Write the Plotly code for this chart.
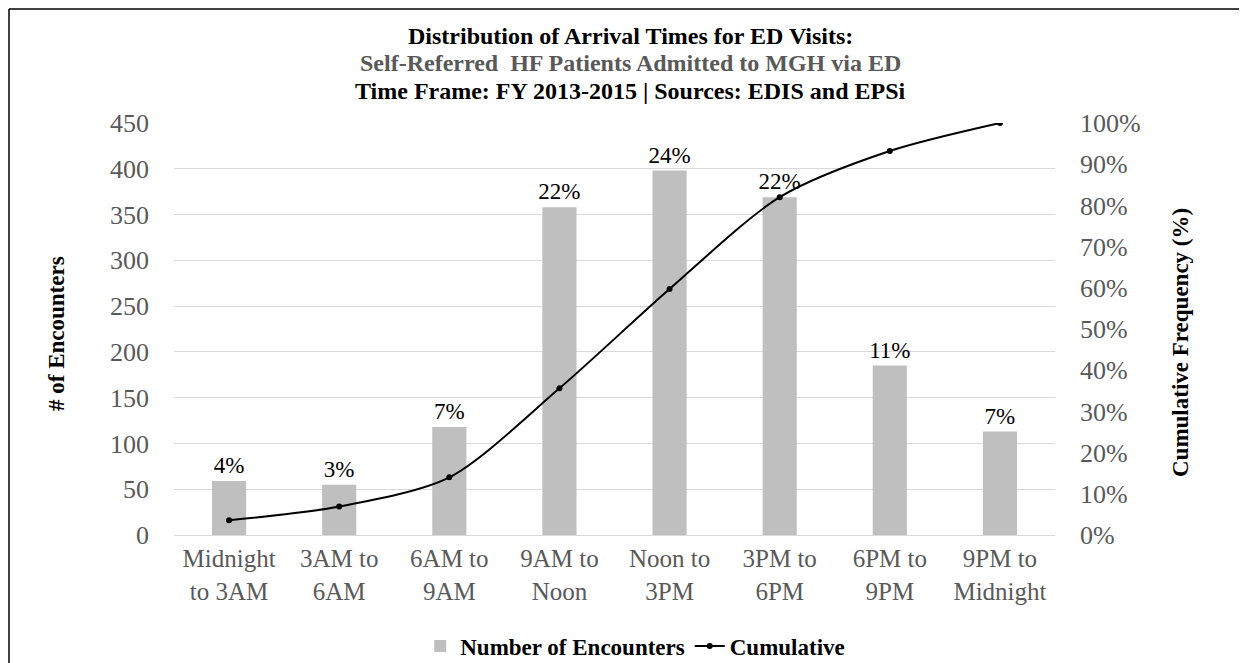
import plotly.graph_objects as go

categories = ["Midnight<br>to 3AM", "3AM to<br>6AM", "6AM to<br>9AM", "9AM to<br>Noon",
              "Noon to<br>3PM", "3PM to<br>6PM", "6PM to<br>9PM", "9PM to<br>Midnight"]
encounters = [59, 55, 118, 358, 398, 369, 185, 113]
share_labels = ["4%", "3%", "7%", "22%", "24%", "22%", "11%", "7%"]
cumulative_pct = [3.6, 6.9, 14.0, 35.6, 59.7, 82.0, 93.2, 100.0]

FONT = "Liberation Serif"
W, H = 1247, 663
L, R, T, B = 166, 200, 115, 136
PW, PH = W - L - R, H - T - B

def px_x(p):
    return (p - L) / PW

def px_y(p):
    return (H - B - p) / PH

fig = go.Figure()
fig.add_trace(go.Bar(
    x=categories, y=encounters, name="Number of Encounters",
    marker=dict(color="#BFBFBF", line=dict(width=0)),
    text=share_labels, textposition="outside", constraintext="none",
    textfont=dict(family=FONT, size=23, color="#000000"),
    cliponaxis=False,
))
fig.add_trace(go.Scatter(
    x=categories, y=cumulative_pct, name="Cumulative", yaxis="y2",
    mode="lines+markers", line=dict(color="#000000", width=2, shape="spline", smoothing=0.8),
    marker=dict(color="#000000", size=6),
))

title_lines = [
    ("Distribution of Arrival Times for ED Visits:", "#000000", 28),
    ("Self-Referred  HF Patients Admitted to MGH via ED", "#595959", 55),
    ("Time Frame: FY 2013-2015 | Sources: EDIS and EPSi", "#000000", 83),
]
annotations = []
for txt, col, yp in title_lines:
    annotations.append(dict(
        text="<b>" + txt + "</b>", x=px_x(622), y=px_y(yp), xref="paper", yref="paper",
        xanchor="center", yanchor="middle", showarrow=False,
        font=dict(family=FONT, size=24, color=col)))
annotations.append(dict(
    text="<b># of Encounters</b>", x=px_x(48), y=px_y(326), xref="paper", yref="paper",
    xanchor="center", yanchor="middle", showarrow=False, textangle=-90,
    font=dict(family=FONT, size=23, color="#000000")))
annotations.append(dict(
    text="<b>Cumulative Frequency (%)</b>", x=px_x(1172), y=px_y(335), xref="paper", yref="paper",
    xanchor="center", yanchor="middle", showarrow=False, textangle=-90,
    font=dict(family=FONT, size=23, color="#000000")))

shapes = [
    dict(type="line", xref="paper", yref="paper", x0=px_x(1), x1=px_x(1), y0=px_y(1), y1=px_y(661),
         line=dict(color="#000000", width=1.5)),
    dict(type="line", xref="paper", yref="paper", x0=px_x(1), x1=px_x(1250), y0=px_y(1), y1=px_y(1),
         line=dict(color="#000000", width=1.5)),
    dict(type="line", xref="paper", yref="paper", x0=px_x(1), x1=px_x(1250), y0=px_y(661), y1=px_y(661),
         line=dict(color="#808080", width=2.5)),
]

fig.update_layout(
    width=W, height=H,
    margin=dict(l=L, r=R, t=T, b=B, autoexpand=False),
    paper_bgcolor="#FFFFFF", plot_bgcolor="#FFFFFF",
    font=dict(family=FONT, color="#595959"),
    bargap=0.69,
    showlegend=True,
    legend=dict(orientation="h", xref="container", yref="container", x=0.503, y=1 - 638 / H,
                xanchor="center", yanchor="middle", itemwidth=30,
                font=dict(family=FONT, size=23, color="#000000", weight="bold"), itemclick=False),
    xaxis=dict(showgrid=False, ticks="", tickfont=dict(family=FONT, size=25, color="#595959"),
               showline=False, ticklabelstandoff=6),
    yaxis=dict(range=[0, 450], dtick=50, showgrid=True, gridcolor="#D9D9D9", gridwidth=1.3,
               zeroline=True, zerolinecolor="#D9D9D9", zerolinewidth=1.3, ticks="",
               tickfont=dict(family=FONT, size=26, color="#595959"), ticklabelstandoff=24),
    yaxis2=dict(range=[0, 100], dtick=10, ticksuffix="%", overlaying="y", side="right",
                showgrid=False, zeroline=False, ticks="",
                tickfont=dict(family=FONT, size=26, color="#595959"), ticklabelstandoff=24),
    annotations=annotations,
    shapes=shapes,
)

fig.write_html("out.html")
